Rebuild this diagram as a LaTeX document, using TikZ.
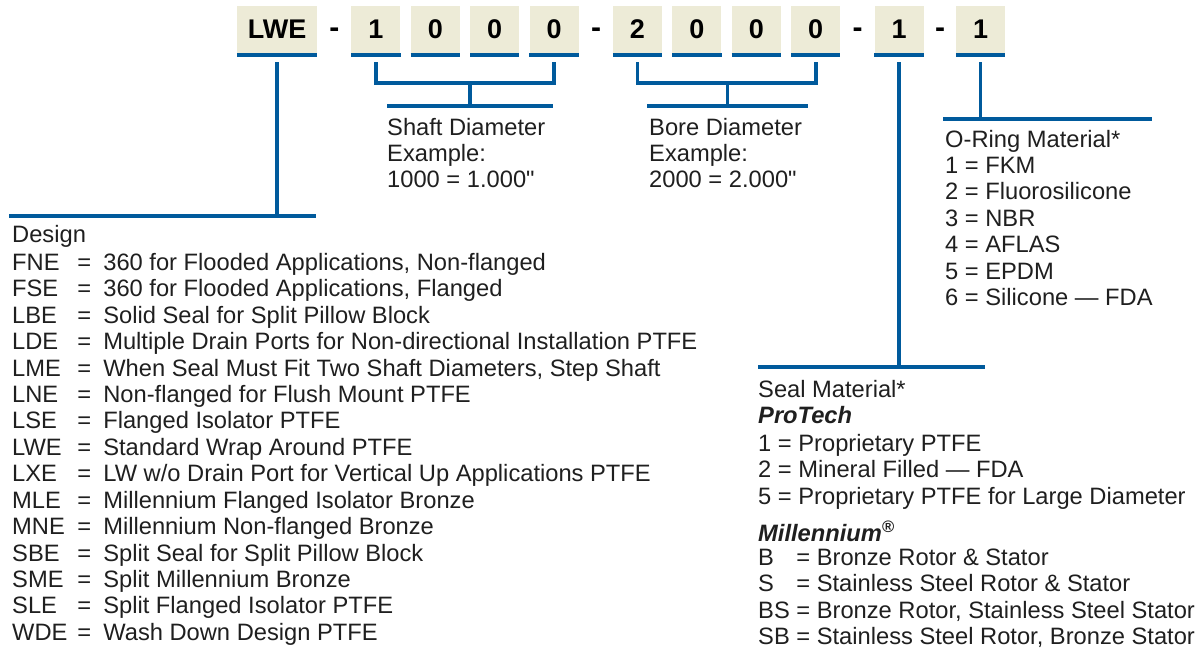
\documentclass[tikz,border=0pt]{standalone}
\usepackage{fontspec}
\setmainfont{Liberation Sans}
\usepackage{tikz}
\usetikzlibrary{positioning, calc}

\definecolor{codeblue}{RGB}{0,90,156}
\definecolor{codefill}{RGB}{237,235,215}
\newcommand{\listfont}{\fontsize{23.7}{26.43}\selectfont}

\begin{document}
\begin{tikzpicture}[
  x=1pt, y=-1pt,
  codebox/.style={fill=codefill, minimum width=49pt, minimum height=47pt, inner sep=0pt, font=\fontsize{27}{30}\selectfont\bfseries},
  dashsep/.style={minimum width=34pt, inner sep=0pt, yshift=-3.3pt, font=\fontsize{30}{32}\selectfont\bfseries},
  uline/.style={draw=codeblue, line width=4pt},
  conn/.style={draw=codeblue, line width=3.6pt},
  block/.style={anchor=base west, inner sep=0pt, font=\listfont, text=black!88}
]
  \useasboundingbox (0,0) rectangle (1202,648);

  \node[codebox, minimum width=80pt] (lwe) at (277,29.5) {LWE};
  \node[dashsep, right=0pt of lwe] (d1) {-};
  \node[codebox, right=0pt of lwe.east, xshift=34pt] (s1) {1};
  \node[codebox, right=10pt of s1] (s2) {0};
  \node[codebox, right=10pt of s2] (s3) {0};
  \node[codebox, right=10pt of s3] (s4) {0};
  \node[dashsep, right=0pt of s4] (d2) {-};
  \node[codebox, right=34pt of s4] (b1) {2};
  \node[codebox, right=10pt of b1] (b2) {0};
  \node[codebox, right=10pt of b2] (b3) {0};
  \node[codebox, right=10pt of b3] (b4) {0};
  \node[dashsep, right=0pt of b4] (d3) {-};
  \node[codebox, right=34pt of b4] (seal) {1};
  \node[dashsep, minimum width=32pt, right=0pt of seal] (d4) {-};
  \node[codebox, right=32pt of seal] (ring) {1};

  \foreach \b in {lwe,s1,s2,s3,s4,b1,b2,b3,b4,seal,ring}
    \draw[uline] ([yshift=-2pt]\b.south west) -- ([yshift=-2pt]\b.south east);

  \coordinate (dsgL) at (9,216);
  \coordinate (dsgR) at (316,216);
  \draw[conn] (dsgL) -- (dsgR);
  \draw[conn] ([yshift=-9pt]lwe.south) -- (lwe.south |- dsgL);

  \coordinate (shaftbrk) at ($(s1.south)+(0,30)$);
  \coordinate (shaftL) at (387,106);
  \coordinate (shaftR) at (553,106);
  \coordinate (shaftmid) at ($(shaftL)!.5!(shaftR)$);
  \draw[conn] ([yshift=-9pt]s1.south) -- (shaftbrk) -| ([yshift=-9pt]s4.south);
  \draw[conn] (shaftL) -- (shaftR);
  \draw[conn] (shaftmid) -- (shaftmid |- shaftbrk);

  \coordinate (borebrk) at ($(b1.south)+(0,30)$);
  \coordinate (boreL) at (647,106);
  \coordinate (boreR) at (808,106);
  \coordinate (boremid) at ($(boreL)!.5!(boreR)$);
  \draw[conn] ([yshift=-9pt]b1.south) -- (borebrk) -| ([yshift=-9pt]b4.south);
  \draw[conn] (boreL) -- (boreR);
  \draw[conn] (boremid) -- (boremid |- borebrk);

  \coordinate (sealL) at (758,367);
  \coordinate (sealR) at (985,367);
  \draw[conn] (sealL) -- (sealR);
  \draw[conn] ([yshift=-9pt]seal.south) -- (seal.south |- sealL);

  \coordinate (ringL) at (943,119);
  \coordinate (ringR) at (1152,119);
  \draw[conn] (ringL) -- (ringR);
  \draw[conn] ([yshift=-9pt]ring.south) -- (ring.south |- ringL);

  \node[block] (shafttxt) at (387,135) {\begin{tabular}[t]{@{}l@{}}
    Shaft Diameter\\
    Example:\\
    1000 = 1.000\textquotedbl
  \end{tabular}};
  \node[block] (boretxt) at (649,135) {\begin{tabular}[t]{@{}l@{}}
    Bore Diameter\\
    Example:\\
    2000 = 2.000\textquotedbl
  \end{tabular}};
  \node[block] (ringtxt) at (945,147) {\begin{tabular}[t]{@{}l@{}}
    O-Ring Material*\\
    1 = FKM\\
    2 = Fluorosilicone\\
    3 = NBR\\
    4 = AFLAS\\
    5 = EPDM\\
    6 = Silicone — FDA
  \end{tabular}};
  \node[block] (designtxt) at (12,242) {\begin{tabular}[t]{@{}l@{\hspace{10pt}}c@{\hspace{12pt}}l@{}}
    \multicolumn{3}{@{}l@{}}{Design}\\[1.9pt]
    FNE & = & 360 for Flooded Applications, Non-flanged\\
    FSE & = & 360 for Flooded Applications, Flanged\\
    LBE & = & Solid Seal for Split Pillow Block\\
    LDE & = & Multiple Drain Ports for Non-directional Installation PTFE\\
    LME & = & When Seal Must Fit Two Shaft Diameters, Step Shaft\\
    LNE & = & Non-flanged for Flush Mount PTFE\\
    LSE & = & Flanged Isolator PTFE\\
    LWE & = & Standard Wrap Around PTFE\\
    LXE & = & LW w/o Drain Port for Vertical Up Applications PTFE\\
    MLE & = & Millennium Flanged Isolator Bronze\\
    MNE & = & Millennium Non-flanged Bronze\\
    SBE & = & Split Seal for Split Pillow Block\\
    SME & = & Split Millennium Bronze\\
    SLE & = & Split Flanged Isolator PTFE\\
    WDE & = & Wash Down Design PTFE
  \end{tabular}};
  \node[block] (sealtxt) at (758,397) {\begin{tabular}[t]{@{}l@{ }l@{ }l@{}}
    \multicolumn{3}{@{}l@{}}{Seal Material*}\\
    \multicolumn{3}{@{}l@{}}{\textbf{\textit{ProTech}}}\\[1.6pt]
    \multicolumn{3}{@{}l@{}}{1 = Proprietary PTFE}\\
    \multicolumn{3}{@{}l@{}}{2 = Mineral Filled — FDA}\\
    \multicolumn{3}{@{}l@{}}{5 = Proprietary PTFE for Large Diameter}\\[8.6pt]
    \multicolumn{3}{@{}l@{}}{\textbf{\textit{Millennium\textsuperscript{\textregistered}}}}\\[-2.4pt]
    B & = & Bronze Rotor \& Stator\\
    S & = & Stainless Steel Rotor \& Stator\\
    BS & = & Bronze Rotor, Stainless Steel Stator\\
    SB & = & Stainless Steel Rotor, Bronze Stator
  \end{tabular}};
\end{tikzpicture}
\end{document}
